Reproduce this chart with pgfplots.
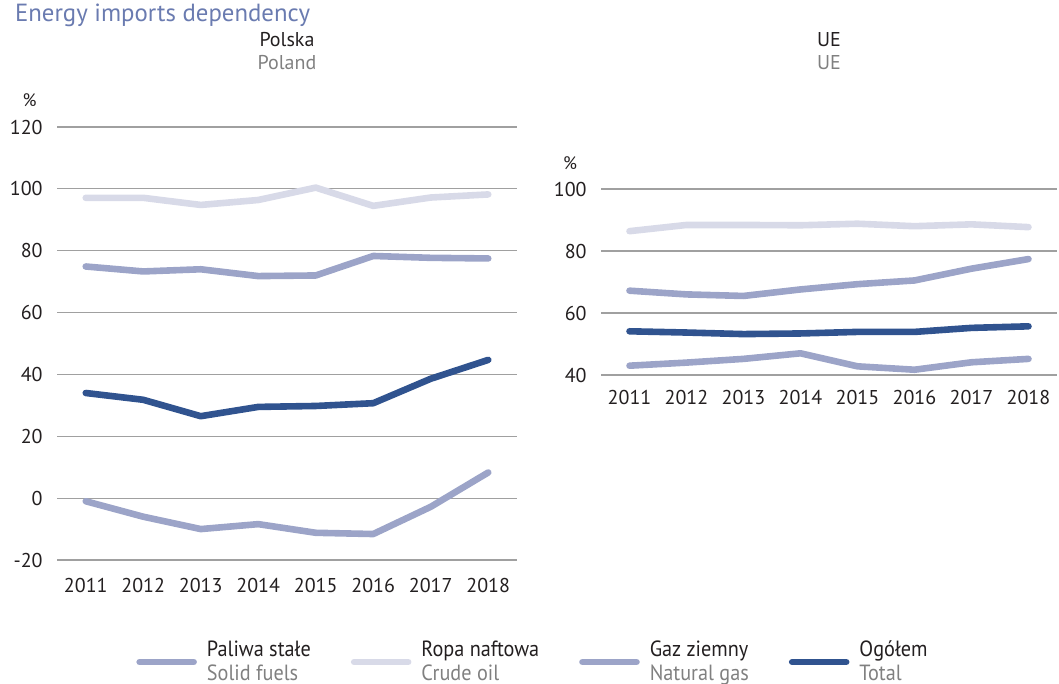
\documentclass[border=0pt]{standalone}
\usepackage{fontspec}
\setmainfont{PT Sans}
\newfontfamily\condfont[FakeStretch=0.92]{PT Sans}
\usepackage{pgfplots}
\pgfplotsset{compat=1.18}
\definecolor{solidc}{HTML}{9CA4C8}
\definecolor{crudec}{HTML}{D8DAE8}
\definecolor{totalc}{HTML}{30538F}
\definecolor{ttl}{HTML}{6A7BB0}
\definecolor{txtgray}{HTML}{808080}
\definecolor{txt}{HTML}{231F20}
\definecolor{gridc}{HTML}{A0A0A0}
\pgfplotsset{
  panel/.style={
    scale only axis, clip=false,
    xmin=2010.5, xmax=2018.5,
    xtick={2011,...,2018},
    axis line style={draw=none},
    tick style={draw=none},
    xmajorgrids=false, ymajorgrids=true,
    grid style={draw=gridc, line width=0.6pt},
    /pgf/number format/assume math mode=true,
    x tick label style={/pgf/number format/1000 sep={}},
    tick label style={font=\fontsize{10}{12}\selectfont, text=txt, inner sep=0pt},
    yticklabel style={xshift=-7pt},
    every axis plot/.append style={line width=3.3pt, line cap=round, line join=round},
  },
}
\begin{document}
\begin{tikzpicture}
\path[use as bounding box] (0pt,0pt) rectangle (529.5pt,-342pt);

\node[anchor=west, text=ttl, font=\fontsize{12.4}{14}\selectfont] at (4pt,-7.5pt) {Energy imports dependency};
\node[text=txt, font=\fontsize{10}{12}\selectfont] at (143.5pt,-20pt) {Polska};
\node[text=txtgray, font=\fontsize{10}{12}\selectfont] at (143.5pt,-31.5pt) {Poland};
\node[text=txt, font=\fontsize{10}{12}\selectfont] at (414.5pt,-20pt) {UE};
\node[text=txtgray, font=\fontsize{10}{12}\selectfont] at (414.5pt,-31.5pt) {UE};
\node[text=txt, font=\fontsize{9}{11}\selectfont] at (14.75pt,-50pt) {\%};
\node[text=txt, font=\fontsize{9}{11}\selectfont] at (285pt,-81.5pt) {\%};

\begin{axis}[panel,
  at={(28.5pt,-280pt)}, anchor=south west,
  width=230pt, height=216.5pt,
  ymin=-20, ymax=120, ytick={-20,0,...,120},
  x tick label style={yshift=-9pt},
  legend columns=4,
  legend cell align=left,
  legend style={at={(1.037,-0.2356)}, anchor=center, draw=none, fill=none,
    font=\fontsize{11}{12}\selectfont\condfont,
    nodes={align=left, text=txt},
    /tikz/every odd column/.append style={column sep=3pt},
    /tikz/every even column/.append style={column sep=18pt}},
  legend image code/.code={\draw[#1] (0pt,0pt) -- (27pt,0pt);},
]
\addplot[solidc] coordinates {(2011,-1.0)(2012,-6.0)(2013,-10.0)(2014,-8.4)(2015,-11.2)(2016,-11.6)(2017,-2.8)(2018,8.3)};
\addlegendentry{Paliwa stałe\\\textcolor{txtgray}{Solid fuels}}
\addplot[crudec] coordinates {(2011,97.1)(2012,97.1)(2013,94.8)(2014,96.4)(2015,100.4)(2016,94.5)(2017,97.2)(2018,98.2)};
\addlegendentry{Ropa naftowa\\\textcolor{txtgray}{Crude oil}}
\addplot[solidc] coordinates {(2011,74.9)(2012,73.3)(2013,74.0)(2014,71.8)(2015,72.0)(2016,78.3)(2017,77.7)(2018,77.5)};
\addlegendentry{Gaz ziemny\\\textcolor{txtgray}{Natural gas}}
\addplot[totalc] coordinates {(2011,34.0)(2012,31.8)(2013,26.5)(2014,29.5)(2015,29.8)(2016,30.7)(2017,38.6)(2018,44.7)};
\addlegendentry{Ogółem\\\textcolor{txtgray}{Total}}
\end{axis}

\begin{axis}[panel,
  at={(300.5pt,-187.5pt)}, anchor=south west,
  width=228pt, height=93pt,
  ymin=40, ymax=100, ytick={40,60,...,100},
  x tick label style={yshift=-7.5pt},
]
\addplot[solidc] coordinates {(2011,43.0)(2012,44.0)(2013,45.2)(2014,47.0)(2015,42.8)(2016,41.7)(2017,44.1)(2018,45.2)};
\addplot[crudec] coordinates {(2011,86.4)(2012,88.4)(2013,88.4)(2014,88.3)(2015,88.8)(2016,88.0)(2017,88.6)(2018,87.7)};
\addplot[solidc] coordinates {(2011,67.2)(2012,66.0)(2013,65.5)(2014,67.6)(2015,69.3)(2016,70.5)(2017,74.3)(2018,77.4)};
\addplot[totalc] coordinates {(2011,54.1)(2012,53.7)(2013,53.2)(2014,53.4)(2015,53.9)(2016,53.9)(2017,55.2)(2018,55.7)};
\end{axis}
\end{tikzpicture}
\end{document}
